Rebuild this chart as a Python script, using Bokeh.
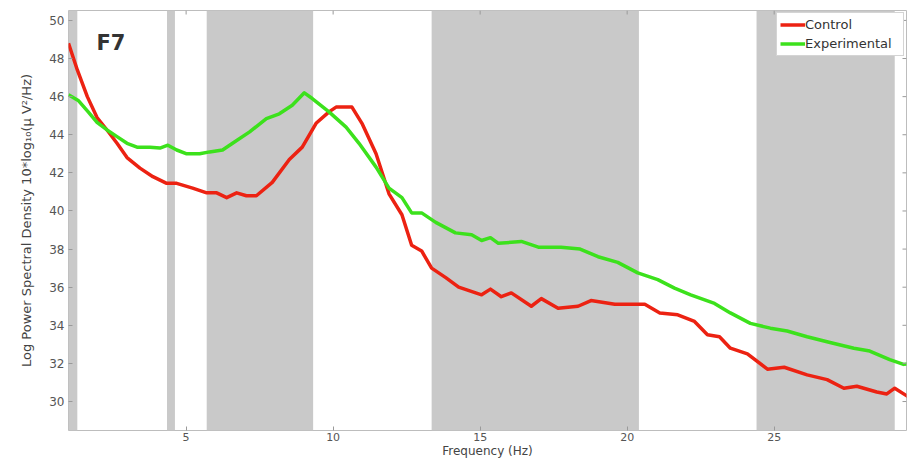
import math
from bokeh.plotting import figure
from bokeh.models import BoxAnnotation, Label, Range1d, Legend, LegendItem, FixedTicker
from bokeh.embed import file_html
from bokeh.resources import INLINE

# ---- data ----
freq_control = [1.0, 1.30, 1.64, 1.97, 2.31, 2.65, 2.99, 3.43, 3.87, 4.34, 4.68, 5.22, 5.70,
                6.04, 6.38, 6.72, 7.05, 7.39, 7.93, 8.51, 8.95, 9.42, 9.86, 10.10, 10.64,
                10.98, 11.46, 11.90, 12.34, 12.67, 13.01, 13.35, 13.83, 14.27, 15.05, 15.35,
                15.72, 16.06, 16.74, 17.08, 17.65, 18.33, 18.77, 19.58, 20.60, 21.11, 21.72,
                22.29, 22.73, 23.14, 23.51, 24.09, 24.77, 25.34, 26.12, 26.80, 27.37, 27.81,
                28.49, 28.83, 29.10, 29.51, 29.74]
control = [48.8, 47.4, 46.0, 44.9, 44.25, 43.55, 42.8, 42.25, 41.8, 41.45, 41.45, 41.2, 40.95,
           40.95, 40.7, 40.95, 40.8, 40.8, 41.5, 42.7, 43.35, 44.6, 45.2, 45.45, 45.45,
           44.6, 43.0, 40.9, 39.8, 38.2, 37.9, 37.0, 36.5, 36.0, 35.6, 35.9,
           35.5, 35.7, 35.0, 35.4, 34.9, 35.0, 35.3, 35.1, 35.1, 34.65, 34.55,
           34.2, 33.5, 33.4, 32.8, 32.5, 31.7, 31.8, 31.4, 31.15, 30.7, 30.8,
           30.5, 30.4, 30.7, 30.3, 30.05]

freq_exp = [1.0, 1.33, 1.67, 1.97, 2.31, 2.65, 2.99, 3.33, 3.77, 4.11, 4.38, 4.68, 5.02, 5.46,
            5.80, 6.24, 6.58, 7.16, 7.73, 8.17, 8.61, 9.02, 9.29, 9.86, 10.44, 10.88, 11.46,
            11.90, 12.34, 12.67, 13.01, 13.49, 14.16, 14.71, 15.05, 15.35, 15.62, 16.40,
            16.98, 17.75, 18.40, 19.01, 19.68, 20.36, 21.04, 21.61, 22.16, 22.97, 23.51,
            24.19, 24.87, 25.44, 26.12, 26.90, 27.71, 28.25, 28.93, 29.40, 29.74]
experimental = [46.1, 45.8, 45.2, 44.65, 44.25, 43.9, 43.55, 43.35, 43.35, 43.3, 43.45, 43.2,
                43.0, 43.0, 43.1, 43.2, 43.55, 44.15, 44.85, 45.1, 45.55, 46.2, 45.9, 45.2,
                44.4, 43.55, 42.3, 41.2, 40.7, 39.9, 39.9, 39.4, 38.85, 38.75, 38.45, 38.6,
                38.3, 38.4, 38.1, 38.1, 38.0, 37.6, 37.3, 36.75, 36.4, 35.95, 35.6, 35.15,
                34.65, 34.1, 33.85, 33.7, 33.4, 33.1, 32.8, 32.65, 32.2, 31.95, 32.0]

band_starts = [1.0, 4.35, 5.70, 13.35, 24.40]
band_ends = [1.30, 4.62, 9.32, 20.40, 29.10]

x_ticks = [5, 10, 15, 20, 25]
y_ticks = [30, 32, 34, 36, 38, 40, 42, 44, 46, 48, 50]

series_labels = ["Control", "Experimental"]
title_text = "F7"

X_START, X_END = 1.0, 29.5
Y_START, Y_END = 28.48, 50.52

# ---- style ----
FONT = "DejaVu Sans"
RED = "#ec2212"
GREEN = "#3ce11c"
BAND = "#c9c9c9"
TICK = "#9a9a9a"

p = figure(width=907, height=460, output_backend="svg", toolbar_location=None,
           x_range=Range1d(X_START, X_END), y_range=Range1d(Y_START, Y_END),
           min_border_left=68, min_border_right=1, min_border_top=10, min_border_bottom=29,
           background_fill_color="white", border_fill_color="white")
p.grid.visible = False
p.outline_line_color = "#bdbdbd"
p.outline_line_width = 1

for s, e in zip(band_starts, band_ends):
    p.add_layout(BoxAnnotation(left=s, right=e, fill_color=BAND, fill_alpha=1.0,
                               line_color=None, level="underlay"))

r1 = p.line(freq_control, control, line_color=RED, line_width=3.5, line_join="round")
r2 = p.line(freq_exp, experimental, line_color=GREEN, line_width=3.5, line_join="round")

# mirrored inward ticks on top and right edges (MATLAB box style)
p.ray(x=[X_END] * len(y_ticks), y=y_ticks, length=4, length_units="screen",
      angle=math.pi, line_color=TICK, line_width=1)
p.ray(x=x_ticks, y=[Y_END] * len(x_ticks), length=4, length_units="screen",
      angle=-math.pi / 2, line_color=TICK, line_width=1)

# axes
xa = p.xaxis[0]
ya = p.yaxis[0]
xa.ticker = FixedTicker(ticks=x_ticks)
ya.ticker = FixedTicker(ticks=y_ticks)
for ax in (xa, ya):
    ax.axis_line_color = None
    ax.major_tick_in = 4
    ax.major_tick_out = 0
    ax.major_tick_line_color = TICK
    ax.minor_tick_line_color = None
    ax.major_label_text_font = FONT
    ax.major_label_text_font_size = "12px"
    ax.major_label_text_color = "#555555"
    ax.axis_label_text_font = FONT
    ax.axis_label_text_font_size = "13px"
    ax.axis_label_text_font_style = "normal"
    ax.axis_label_text_color = "#444444"
xa.major_label_text_font_size = "11px"
xa.major_label_standoff = 2
xa.axis_label = "Frequency (Hz)"
xa.axis_label_text_font_size = "12px"
xa.axis_label_standoff = 0
ya.major_label_standoff = 4
ya.axis_label = "Log Power Spectral Density 10*log\u2081\u2080(\u03bc V\u00b2/Hz)"
ya.axis_label_standoff = 12

# title inside the plot
p.add_layout(Label(x=1.95, y=48.8, text=title_text, text_font=FONT, text_font_size="21px",
                   text_font_style="bold", text_color="#333333", text_baseline="alphabetic"))

legend = Legend(items=[LegendItem(label=series_labels[0], renderers=[r1]),
                       LegendItem(label=series_labels[1], renderers=[r2])],
                location="top_right", margin=2, padding=3, spacing=2,
                glyph_width=25, glyph_height=17, label_height=17, label_width=95,
                label_standoff=0, label_text_font=FONT, label_text_font_size="13px",
                label_text_color="#333333", border_line_color="#aaaaaa",
                background_fill_color="white", background_fill_alpha=1.0)
p.add_layout(legend)

open("out.html", "w").write(file_html(p, INLINE))
